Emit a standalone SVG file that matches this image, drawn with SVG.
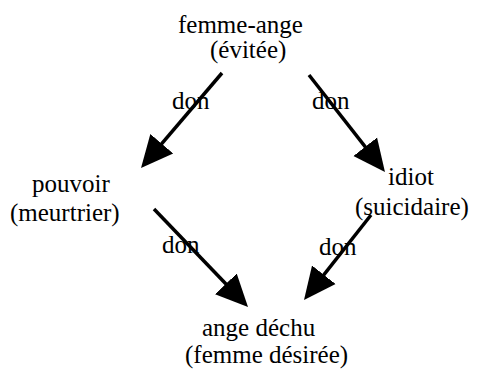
<svg xmlns="http://www.w3.org/2000/svg" width="477" height="369" viewBox="0 0 477 369">
<style>
.t{font-size:25px;fill:#000}
.c{stroke:#000;stroke-width:3.5;fill:none}
</style>
<defs>
<marker id="ah" markerUnits="userSpaceOnUse" markerWidth="32" markerHeight="32" viewBox="0 0 32 30" refX="22" refY="15" orient="auto">
<path d="M0,0 L32,15 L0,30 z" fill="#000"/>
</marker>
</defs>
<g font-family="'Liberation Serif', 'Times New Roman', serif" class="t">
<g id="n1"><text x="178" y="33">femme-ange</text><text x="210" y="58">(évitée)</text></g>
<g id="n2"><text x="32" y="192">pouvoir</text><text x="10" y="221">(meurtrier)</text></g>
<g id="n3"><text x="388" y="185">idiot</text><text x="355" y="215">(suicidaire)</text></g>
<g id="n4"><text x="202" y="336">ange déchu</text><text x="185" y="363">(femme désirée)</text></g>
</g>
<g id="connectors">
<line class="c" x1="222" y1="73" x2="147.5" y2="160.4" marker-end="url(#ah)"/>
<line class="c" x1="309" y1="75" x2="378.8" y2="164.1" marker-end="url(#ah)"/>
<line class="c" x1="154" y1="209" x2="241.1" y2="299.8" marker-end="url(#ah)"/>
<line class="c" x1="371" y1="215" x2="310.2" y2="292.1" marker-end="url(#ah)"/>
<g font-family="'Liberation Serif', 'Times New Roman', serif" class="t">
<text x="172" y="109">don</text>
<text x="312" y="109">don</text>
<text x="162" y="253">don</text>
<text x="319" y="255">don</text>
</g>
</g>
</svg>
